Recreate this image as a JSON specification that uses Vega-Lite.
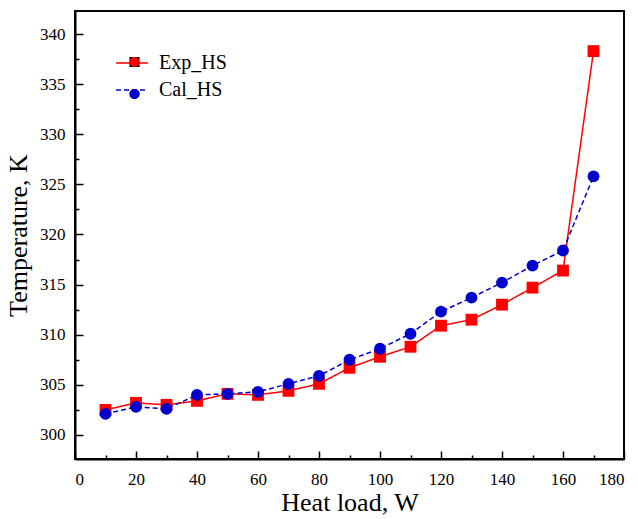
{
  "$schema": "https://vega.github.io/schema/vega-lite/v6.json",
  "width": 549,
  "height": 448,
  "autosize": {"type": "none"},
  "padding": {"left": 75, "top": 11, "right": 14, "bottom": 60},
  "background": "white",
  "config": {
    "view": {"stroke": "black", "strokeWidth": 2},
    "font": "Liberation Serif",
    "axis": {"grid": false, "labelFont": "Liberation Serif", "titleFont": "Liberation Serif", "labelColor": "black", "titleColor": "black", "tickColor": "black", "domainColor": "black", "titleFontWeight": "normal"},
    "legend": {"labelFont": "Liberation Serif", "labelColor": "black"}
  },
  "data": {
    "values": [
      {"load": 10, "temp": 302.5, "series": "Exp_HS"},
      {"load": 20, "temp": 303.2, "series": "Exp_HS"},
      {"load": 30, "temp": 303.0, "series": "Exp_HS"},
      {"load": 40, "temp": 303.4, "series": "Exp_HS"},
      {"load": 50, "temp": 304.1, "series": "Exp_HS"},
      {"load": 60, "temp": 304.0, "series": "Exp_HS"},
      {"load": 70, "temp": 304.4, "series": "Exp_HS"},
      {"load": 80, "temp": 305.1, "series": "Exp_HS"},
      {"load": 90, "temp": 306.7, "series": "Exp_HS"},
      {"load": 100, "temp": 307.8, "series": "Exp_HS"},
      {"load": 110, "temp": 308.8, "series": "Exp_HS"},
      {"load": 120, "temp": 310.9, "series": "Exp_HS"},
      {"load": 130, "temp": 311.5, "series": "Exp_HS"},
      {"load": 140, "temp": 313.0, "series": "Exp_HS"},
      {"load": 150, "temp": 314.7, "series": "Exp_HS"},
      {"load": 160, "temp": 316.4, "series": "Exp_HS"},
      {"load": 170, "temp": 338.3, "series": "Exp_HS"},
      {"load": 10, "temp": 302.1, "series": "Cal_HS"},
      {"load": 20, "temp": 302.8, "series": "Cal_HS"},
      {"load": 30, "temp": 302.6, "series": "Cal_HS"},
      {"load": 40, "temp": 304.0, "series": "Cal_HS"},
      {"load": 50, "temp": 304.1, "series": "Cal_HS"},
      {"load": 60, "temp": 304.3, "series": "Cal_HS"},
      {"load": 70, "temp": 305.1, "series": "Cal_HS"},
      {"load": 80, "temp": 305.9, "series": "Cal_HS"},
      {"load": 90, "temp": 307.5, "series": "Cal_HS"},
      {"load": 100, "temp": 308.6, "series": "Cal_HS"},
      {"load": 110, "temp": 310.1, "series": "Cal_HS"},
      {"load": 120, "temp": 312.3, "series": "Cal_HS"},
      {"load": 130, "temp": 313.7, "series": "Cal_HS"},
      {"load": 140, "temp": 315.2, "series": "Cal_HS"},
      {"load": 150, "temp": 316.9, "series": "Cal_HS"},
      {"load": 160, "temp": 318.4, "series": "Cal_HS"},
      {"load": 170, "temp": 325.8, "series": "Cal_HS"}
    ]
  },
  "resolve": {"axis": {"x": "independent", "y": "independent"}},
  "layer": [
    {
      "mark": {"type": "line", "strokeWidth": 1.5},
      "encoding": {
        "x": {"field": "load", "type": "quantitative", "scale": {"domain": [0, 180], "nice": false, "zero": false},
          "axis": {"orient": "bottom", "values": [10, 30, 50, 70, 90, 110, 130, 150, 170], "labels": false, "domain": false, "tickSize": -4, "tickWidth": 1.5, "title": null}},
        "y": {"field": "temp", "type": "quantitative", "scale": {"domain": [297.6, 342.3], "nice": false, "zero": false},
          "axis": {"orient": "left", "values": [302.5, 307.5, 312.5, 317.5, 322.5, 327.5, 332.5, 337.5], "labels": false, "domain": false, "tickSize": -4, "tickWidth": 1.5, "title": null}},
        "color": {"field": "series", "type": "nominal",
          "scale": {"domain": ["Exp_HS", "Cal_HS"], "range": ["#FF0000", "#0000CD"]},
          "legend": {"orient": "none", "legendX": 40, "legendY": 35, "title": null, "symbolType": "stroke", "symbolSize": 1024, "symbolStrokeWidth": 1.5, "labelFontSize": 20, "labelOffset": 10, "padding": 0, "rowPadding": 0}},
        "strokeDash": {"field": "series", "type": "nominal",
          "scale": {"domain": ["Exp_HS", "Cal_HS"], "range": [[1, 0], [5, 3]]},
          "legend": {"orient": "none", "legendX": 40, "legendY": 35, "title": null, "symbolType": "stroke", "symbolSize": 1024, "symbolStrokeWidth": 1.5, "labelFontSize": 20, "labelOffset": 10, "padding": 0, "rowPadding": 0}},
        "detail": {"field": "series"}
      }
    },
    {
      "mark": {"type": "point", "filled": true, "opacity": 1, "size": 140, "strokeWidth": 0},
      "encoding": {
        "x": {"field": "load", "type": "quantitative", "scale": {"domain": [0, 180], "nice": false, "zero": false},
          "axis": {"orient": "bottom", "values": [0, 20, 40, 60, 80, 100, 120, 140, 160, 180], "tickSize": -8, "tickWidth": 1.5, "domainWidth": 2, "labelFontSize": 17, "labelPadding": 20, "title": "Heat load, W", "titleFontSize": 26, "titlePadding": 2}},
        "y": {"field": "temp", "type": "quantitative", "scale": {"domain": [297.6, 342.3], "nice": false, "zero": false},
          "axis": {"orient": "left", "values": [300, 305, 310, 315, 320, 325, 330, 335, 340], "tickSize": -8, "tickWidth": 1.5, "domainWidth": 2, "labelFontSize": 17, "labelPadding": 18, "title": "Temperature, K", "titleFontSize": 26, "titlePadding": 8}},
        "fill": {"field": "series", "type": "nominal", "sort": ["Exp_HS", "Cal_HS"],
          "scale": {"range": ["#FF0000", "#0000CD"]},
          "legend": {"orient": "none", "legendX": 49.5, "legendY": 41, "title": null, "labelFontSize": 20, "labelExpr": "''", "padding": 0, "rowPadding": 12}},
        "shape": {"field": "series", "type": "nominal", "sort": ["Exp_HS", "Cal_HS"],
          "scale": {"range": ["square", "circle"]},
          "legend": {"orient": "none", "legendX": 49.5, "legendY": 41, "title": null, "labelFontSize": 20, "labelExpr": "''", "padding": 0, "rowPadding": 12}}
      }
    }
  ]
}
